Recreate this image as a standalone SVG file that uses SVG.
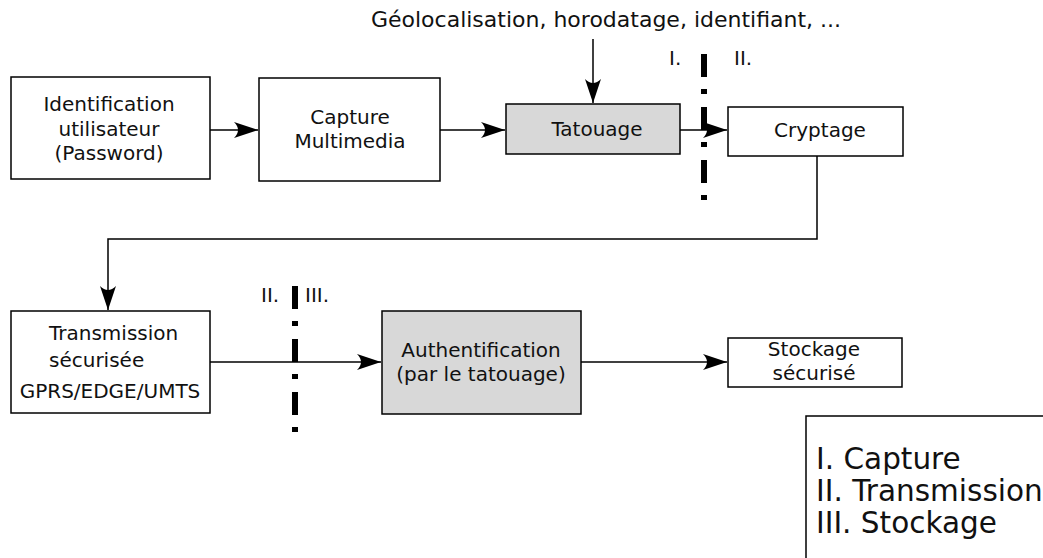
<svg xmlns="http://www.w3.org/2000/svg" width="1043" height="558" viewBox="0 0 1043 558">
<defs>
<marker id="arr" markerUnits="userSpaceOnUse" markerWidth="30" markerHeight="20" viewBox="-25 -10 27 20" refX="0" refY="0" orient="auto">
<path d="M0,0 L-24,-8 Q-16,0 -24,8 Z" fill="#000"/>
</marker>
<style>
.box{fill:#fff;stroke:#000;stroke-width:1.5}
.grey{fill:#d8d8d8;stroke:#000;stroke-width:1.5}
.t{font-family:"DejaVu Sans",sans-serif;font-size:20px;fill:#111}
.top{font-family:"DejaVu Sans",sans-serif;font-size:22px;fill:#111;text-anchor:middle}
.c{text-anchor:middle}
.ln{fill:none;stroke:#000;stroke-width:1.5}
.sep{fill:none;stroke:#000;stroke-width:6;stroke-dasharray:23 12 5 13}
.leg{font-family:"DejaVu Sans",sans-serif;font-size:29.5px;fill:#111}
</style>
</defs>
<rect width="1043" height="558" fill="#fff"/>
<text class="top" x="606" y="27">Géolocalisation, horodatage, identifiant, ...</text>
<g id="connectors">
<line class="ln" x1="210" y1="130" x2="258" y2="130" marker-end="url(#arr)"/>
<line class="ln" x1="440" y1="130" x2="505" y2="130" marker-end="url(#arr)"/>
<line class="ln" x1="593" y1="39" x2="593" y2="103" marker-end="url(#arr)"/>
<line class="ln" x1="680" y1="130" x2="727" y2="130" marker-end="url(#arr)"/>
<polyline class="ln" points="817,156 817,239 108,239 108,310" marker-end="url(#arr)"/>
<line class="ln" x1="210" y1="362" x2="381" y2="362" marker-end="url(#arr)"/>
<line class="ln" x1="581" y1="362" x2="727" y2="362" marker-end="url(#arr)"/>
</g>
<g id="sep1">
<line class="sep" x1="704" y1="54" x2="704" y2="201"/>
<text class="t" x="669" y="65">I.</text>
<text class="t" x="734" y="65">II.</text>
</g>
<g id="sep2">
<line class="sep" x1="295" y1="286" x2="295" y2="433"/>
<text class="t" x="261" y="302">II.</text>
<text class="t" x="305" y="302">III.</text>
</g>
<g id="identification">
<rect class="box" x="11" y="77" width="199" height="102"/>
<text class="t c" x="109" y="111">Identification</text>
<text class="t c" x="109" y="136">utilisateur</text>
<text class="t c" x="109" y="160">(Password)</text>
</g>
<g id="capture">
<rect class="box" x="259" y="78" width="181" height="103"/>
<text class="t c" x="350" y="124">Capture</text>
<text class="t c" x="350" y="148">Multimedia</text>
</g>
<g id="tatouage">
<rect class="grey" x="506" y="104" width="174" height="50"/>
<text class="t c" x="597" y="136">Tatouage</text>
</g>
<g id="cryptage">
<rect class="box" x="728" y="107" width="175" height="49"/>
<text class="t c" x="820" y="137">Cryptage</text>
</g>
<g id="transmission">
<rect class="box" x="11" y="311" width="199" height="102"/>
<text class="t" x="49" y="340">Transmission</text>
<text class="t" x="49" y="367">sécurisée</text>
<text class="t c" x="110" y="398">GPRS/EDGE/UMTS</text>
</g>
<g id="authentification">
<rect class="grey" x="382" y="311" width="199" height="103"/>
<text class="t c" x="481" y="357">Authentification</text>
<text class="t c" x="481" y="381">(par le tatouage)</text>
</g>
<g id="stockage">
<rect class="box" x="728" y="338" width="174" height="49"/>
<text class="t c" x="814" y="356">Stockage</text>
<text class="t c" x="814" y="380">sécurisé</text>
</g>
<g id="legend">
<rect class="box" x="806" y="416" width="260" height="160"/>
<text class="leg" x="816" y="469">I. Capture</text>
<text class="leg" x="816" y="501">II. Transmission</text>
<text class="leg" x="816" y="533">III. Stockage</text>
</g>
</svg>
